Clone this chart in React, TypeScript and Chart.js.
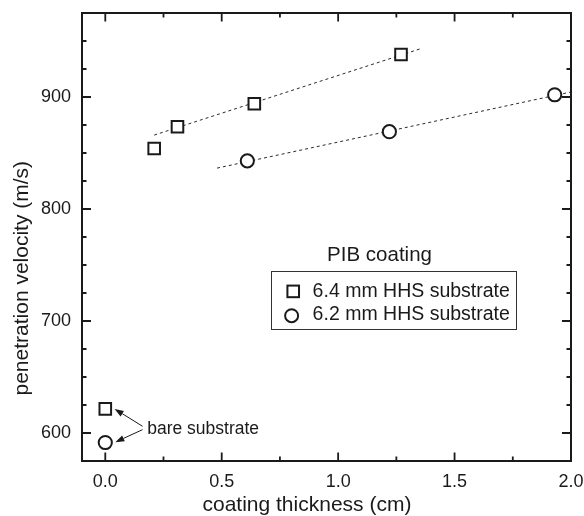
import React, { useEffect, useRef } from 'react';
import { Chart, registerables } from 'chart.js';

Chart.register(...registerables);

// ---- data ----
const squareX = [0.0, 0.21, 0.31, 0.64, 1.27];
const squareY = [621.5, 854, 873.5, 894, 938];
const circleX = [0.0, 0.61, 1.22, 1.93];
const circleY = [591.5, 843, 869, 902];
const squareFitX = [0.21, 1.36];
const squareFitY = [866, 943.5];
const circleFitX = [0.48, 2.0];
const circleFitY = [836.5, 904.5];

const xTickValues = [0, 0.5, 1.0, 1.5, 2.0];
const xMinorTicks = [0.25, 0.75, 1.25, 1.75];
const yTickValues = [600, 700, 800, 900];
const yMinorTicks = [625, 650, 675, 725, 750, 775, 825, 850, 875, 925, 950];

const seriesLabels = ['6.4 mm HHS substrate', '6.2 mm HHS substrate'];
const legendTitle = 'PIB coating';
const xTitle = 'coating thickness (cm)';
const yTitle = 'penetration velocity (m/s)';
const noteText = 'bare substrate';
// annotation anchors (data units)
const noteAt = [0.18, 603.6];
const arrowTails = [[0.16, 606], [0.16, 603]];
const arrowTips = [[0.04, 621.5], [0.043, 591.8]];
const legendAt = [0.71, 744.3];

const zip = (xs: number[], ys: number[]) => xs.map((x, i) => ({ x, y: ys[i] }));

export default function App() {
  const ref = useRef<HTMLCanvasElement>(null);
  useEffect(() => {
    document.body.style.margin = '0';
    const canvas = ref.current!;
    const FONT = "'Liberation Sans', Arial, Helvetica, sans-serif";
    const ink = '#1a1a1a';

    const drawArrow = (ctx: CanvasRenderingContext2D, x0: number, y0: number, x1: number, y1: number) => {
      const ang = Math.atan2(y1 - y0, x1 - x0);
      const hl = 9, hw = 3.2;
      const bx = x1 - hl * Math.cos(ang), by = y1 - hl * Math.sin(ang);
      ctx.beginPath();
      ctx.moveTo(x0, y0);
      ctx.lineTo(bx, by);
      ctx.stroke();
      ctx.beginPath();
      ctx.moveTo(x1, y1);
      ctx.lineTo(bx + hw * Math.sin(ang), by - hw * Math.cos(ang));
      ctx.lineTo(bx - hw * Math.sin(ang), by + hw * Math.cos(ang));
      ctx.closePath();
      ctx.fill();
    };

    const zeroPad = (sc: any) => {
      sc.paddingLeft = 0;
      sc.paddingRight = 0;
      sc.paddingTop = 0;
      sc.paddingBottom = 0;
    };

    const overlay = {
      id: 'overlay',
      afterDraw(chart: any) {
        const { ctx, chartArea: a, scales } = chart;
        const xs = scales.x, ys = scales.y;
        ctx.save();
        ctx.strokeStyle = ink;
        ctx.fillStyle = ink;
        // frame
        ctx.lineWidth = 2;
        ctx.strokeRect(a.left, a.top, a.right - a.left, a.bottom - a.top);
        // inward ticks on all four sides
        ctx.lineWidth = 1.8;
        ctx.beginPath();
        const xt = (v: number, len: number) => {
          const p = xs.getPixelForValue(v);
          ctx.moveTo(p, a.bottom); ctx.lineTo(p, a.bottom - len);
          ctx.moveTo(p, a.top); ctx.lineTo(p, a.top + len);
        };
        const yt = (v: number, len: number) => {
          const p = ys.getPixelForValue(v);
          ctx.moveTo(a.left, p); ctx.lineTo(a.left + len, p);
          ctx.moveTo(a.right, p); ctx.lineTo(a.right - len, p);
        };
        xTickValues.forEach(v => xt(v, 8.5));
        xMinorTicks.forEach(v => xt(v, 4.5));
        yTickValues.forEach(v => yt(v, 9));
        yMinorTicks.forEach(v => yt(v, 4.5));
        ctx.stroke();

        // axis titles
        ctx.font = `21px ${FONT}`;
        ctx.textAlign = 'center';
        ctx.textBaseline = 'alphabetic';
        ctx.fillText(xTitle, a.left + 0.46 * (a.right - a.left), a.bottom + 50);
        ctx.save();
        ctx.translate(28, a.top + 0.592 * (a.bottom - a.top));
        ctx.rotate(-Math.PI / 2);
        ctx.fillText(yTitle, 0, 0);
        ctx.restore();

        // legend
        const lx = xs.getPixelForValue(legendAt[0]);
        const ly = ys.getPixelForValue(legendAt[1]);
        const bw = 245, bh = 58;
        ctx.lineWidth = 1;
        ctx.strokeStyle = '#333';
        ctx.strokeRect(Math.round(lx) + 0.5, Math.round(ly) + 0.5, bw, bh);
        ctx.font = `20.5px ${FONT}`;
        ctx.textAlign = 'left';
        ctx.fillText(legendTitle, lx + 56.5, ly - 10);
        ctx.font = `19.5px ${FONT}`;
        ctx.strokeStyle = ink;
        ctx.lineWidth = 2;
        // square marker
        const s = 5.8;
        ctx.strokeRect(lx + 22.6 - s, ly + 20 - s, 2 * s, 2 * s);
        ctx.fillText(seriesLabels[0], lx + 42, ly + 25.2);
        // circle marker
        ctx.beginPath();
        ctx.arc(lx + 21, ly + 44.3, 6.5, 0, Math.PI * 2);
        ctx.stroke();
        ctx.fillText(seriesLabels[1], lx + 42, ly + 48.5);

        // annotation
        ctx.font = `17.5px ${FONT}`;
        ctx.textBaseline = 'middle';
        ctx.fillText(noteText, xs.getPixelForValue(noteAt[0]), ys.getPixelForValue(noteAt[1]));
        ctx.lineWidth = 1;
        arrowTails.forEach((t, i) => {
          drawArrow(ctx,
            xs.getPixelForValue(t[0]), ys.getPixelForValue(t[1]),
            xs.getPixelForValue(arrowTips[i][0]), ys.getPixelForValue(arrowTips[i][1]));
        });
        ctx.restore();
      },
    };

    const chart = new Chart(canvas, {
      type: 'scatter',
      data: {
        datasets: [
          {
            label: seriesLabels[0],
            data: zip(squareX, squareY),
            pointStyle: 'rect',
            pointRadius: 8.2,
            borderWidth: 2,
            borderColor: ink,
            backgroundColor: '#ffffff',
          },
          {
            label: seriesLabels[1],
            data: zip(circleX, circleY),
            pointStyle: 'circle',
            pointRadius: 6.6,
            borderWidth: 2,
            borderColor: ink,
            backgroundColor: '#ffffff',
          },
          {
            label: 'fit 6.4',
            data: zip(squareFitX, squareFitY),
            showLine: true,
            pointRadius: 0,
            borderWidth: 1,
            borderDash: [3, 3],
            borderColor: '#2a2a2a',
          },
          {
            label: 'fit 6.2',
            data: zip(circleFitX, circleFitY),
            showLine: true,
            pointRadius: 0,
            borderWidth: 1,
            borderDash: [3, 3],
            borderColor: '#2a2a2a',
          },
        ],
      },
      options: {
        responsive: false,
        animation: false,
        devicePixelRatio: 1,
        layout: { padding: { top: 13, right: 13, left: 0, bottom: 0 } },
        plugins: { legend: { display: false }, tooltip: { enabled: false } },
        scales: {
          x: {
            type: 'linear',
            min: -0.1,
            max: 2.0,
            grid: { display: false, drawTicks: false },
            border: { display: false },
            afterBuildTicks: (sc: any) => { sc.ticks = xTickValues.map(v => ({ value: v })); },
            afterFit: (sc: any) => { sc.height = 55; zeroPad(sc); },
            ticks: {
              font: { family: FONT, size: 18 },
              color: ink,
              padding: 10,
              maxRotation: 0,
              autoSkip: false,
              callback: (v: any) => Number(v).toFixed(1),
            },
          },
          y: {
            type: 'linear',
            min: 575,
            max: 975,
            grid: { display: false, drawTicks: false },
            border: { display: false },
            afterBuildTicks: (sc: any) => { sc.ticks = yTickValues.map(v => ({ value: v })); },
            afterFit: (sc: any) => { sc.width = 82; zeroPad(sc); },
            ticks: {
              font: { family: FONT, size: 18 },
              color: ink,
              padding: 11,
              autoSkip: false,
              callback: (v: any) => String(v),
            },
          },
        },
      },
      plugins: [overlay],
    } as any);
    return () => chart.destroy();
  }, []);

  return (
    <div style={{ width: 584, height: 516, background: '#fff' }}>
      <canvas ref={ref} width={584} height={516} style={{ display: 'block' }} />
    </div>
  );
}
